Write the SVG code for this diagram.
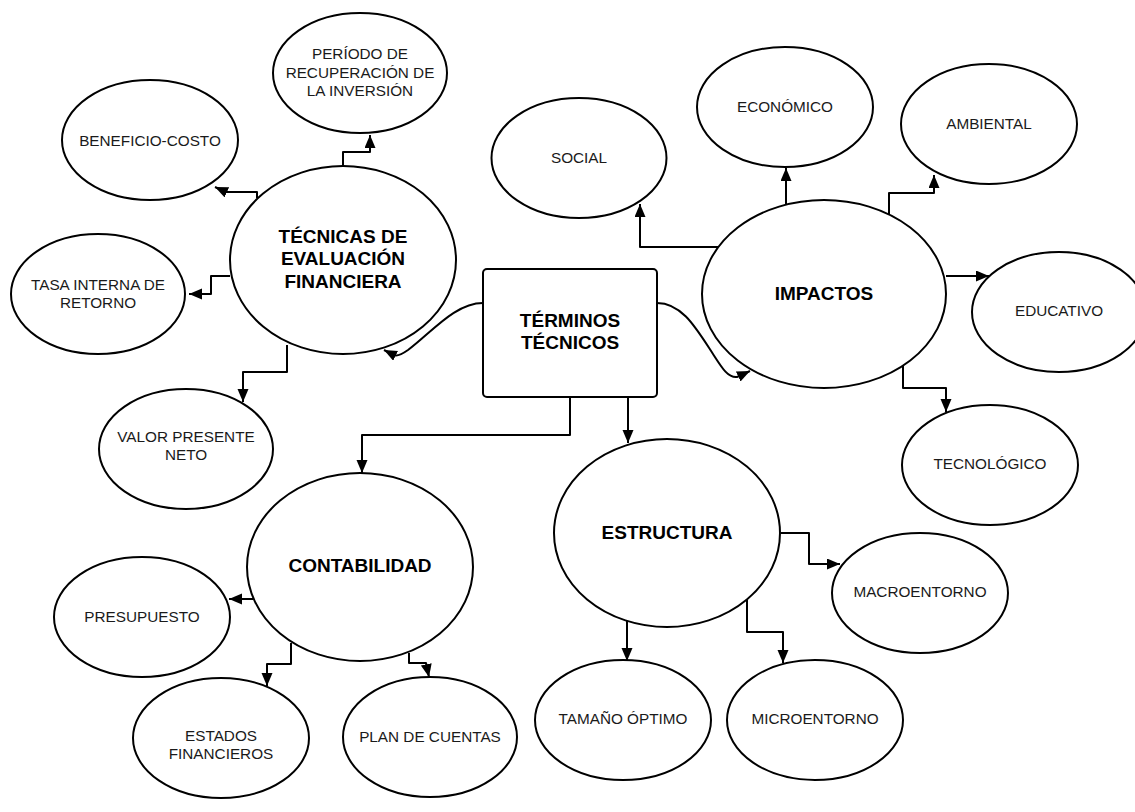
<svg xmlns="http://www.w3.org/2000/svg" width="1135" height="812" viewBox="0 0 1135 812">
<style>
.n{fill:#fff;stroke:#000;stroke-width:2}
.t{font-family:"Liberation Sans",Arial,sans-serif;font-size:15.3px;fill:#1a1a1a;text-anchor:middle;dominant-baseline:central}
.b{font-family:"Liberation Sans",Arial,sans-serif;font-size:19px;font-weight:bold;fill:#000;text-anchor:middle;dominant-baseline:central}
.c{fill:none;stroke:#000;stroke-width:2;stroke-linejoin:round;marker-end:url(#ah)}
</style>
<defs>
<marker id="ah" markerUnits="userSpaceOnUse" markerWidth="14" markerHeight="12" refX="13" refY="5.5" orient="auto">
<path d="M0,0 L13,5.5 L0,11 z" fill="#000"/>
</marker>
</defs>
<rect width="1135" height="812" fill="#fff"/>
<g id="connectors">
<path class="c" d="M343,167 V152 H370 V135"/>
<path class="c" d="M257,198 V192 H226 L215,187"/>
<path class="c" d="M230,276 H211 V294 H189"/>
<path class="c" d="M287,345 V372 H243 V402"/>
<path class="c" d="M483,303 C455,303 432,332 408,350 Q398,357 394,355 L384,350"/>
<path class="c" d="M657,303 C682,303 696,328 713,354 C722,368 728,378 737,377 L750,371"/>
<path class="c" d="M570,397 V435 H362 V473"/>
<path class="c" d="M628,397 V443"/>
<path class="c" d="M718,247 H640 V204"/>
<path class="c" d="M786,204 V168"/>
<path class="c" d="M889,214 V193 H934 V175"/>
<path class="c" d="M946,276 H989"/>
<path class="c" d="M903,365 V388 H946 V412"/>
<path class="c" d="M253,599 H229"/>
<path class="c" d="M291,643 V664 H267 V686"/>
<path class="c" d="M409,653 V663 H426 L429,677"/>
<path class="c" d="M781,533 H809 V564 H840"/>
<path class="c" d="M627,620 V661"/>
<path class="c" d="M747,600 V632 H783 V663"/>
</g>
<g id="terminos">
<rect class="n" x="483" y="269" width="174" height="128" rx="4"/>
<text class="b" x="570" y="320">TÉRMINOS</text>
<text class="b" x="570" y="342">TÉCNICOS</text>
</g>
<g id="tecnicas">
<ellipse class="n" cx="343" cy="260" rx="113" ry="94"/>
<text class="b" x="343" y="236">TÉCNICAS DE</text>
<text class="b" x="343" y="258">EVALUACIÓN</text>
<text class="b" x="343" y="281">FINANCIERA</text>
</g>
<g id="periodo">
<ellipse class="n" cx="360" cy="73" rx="87" ry="60"/>
<text class="t" x="360" y="53">PERÍODO DE</text>
<text class="t" x="360" y="72">RECUPERACIÓN DE</text>
<text class="t" x="360" y="90">LA INVERSIÓN</text>
</g>
<g id="beneficio">
<ellipse class="n" cx="150" cy="140" rx="88" ry="60"/>
<text class="t" x="150" y="140">BENEFICIO-COSTO</text>
</g>
<g id="tasa">
<ellipse class="n" cx="98" cy="294" rx="87" ry="60"/>
<text class="t" x="98" y="284">TASA INTERNA DE</text>
<text class="t" x="98" y="302">RETORNO</text>
</g>
<g id="valor">
<ellipse class="n" cx="186" cy="449" rx="87" ry="60"/>
<text class="t" x="186" y="436">VALOR PRESENTE</text>
<text class="t" x="186" y="454">NETO</text>
</g>
<g id="impactos">
<ellipse class="n" cx="824" cy="294" rx="122" ry="94"/>
<text class="b" x="824" y="293">IMPACTOS</text>
</g>
<g id="social">
<ellipse class="n" cx="579" cy="158" rx="87.5" ry="60"/>
<text class="t" x="579" y="157">SOCIAL</text>
</g>
<g id="economico">
<ellipse class="n" cx="785" cy="107" rx="88" ry="60"/>
<text class="t" x="785" y="106">ECONÓMICO</text>
</g>
<g id="ambiental">
<ellipse class="n" cx="989" cy="124" rx="88" ry="60"/>
<text class="t" x="989" y="123">AMBIENTAL</text>
</g>
<g id="educativo">
<ellipse class="n" cx="1059" cy="312" rx="87" ry="60"/>
<text class="t" x="1059" y="310">EDUCATIVO</text>
</g>
<g id="tecnologico">
<ellipse class="n" cx="990" cy="465" rx="88" ry="60"/>
<text class="t" x="990" y="463">TECNOLÓGICO</text>
</g>
<g id="contabilidad">
<ellipse class="n" cx="360" cy="567" rx="113" ry="94"/>
<text class="b" x="360" y="565">CONTABILIDAD</text>
</g>
<g id="presupuesto">
<ellipse class="n" cx="142" cy="617" rx="88" ry="60"/>
<text class="t" x="142" y="616">PRESUPUESTO</text>
</g>
<g id="estados">
<ellipse class="n" cx="221" cy="738" rx="88" ry="60"/>
<text class="t" x="221" y="735">ESTADOS</text>
<text class="t" x="221" y="753">FINANCIEROS</text>
</g>
<g id="plan">
<ellipse class="n" cx="430" cy="737" rx="87" ry="60"/>
<text class="t" x="430" y="736">PLAN DE CUENTAS</text>
</g>
<g id="estructura">
<ellipse class="n" cx="667" cy="533" rx="113" ry="94"/>
<text class="b" x="667" y="532">ESTRUCTURA</text>
</g>
<g id="macro">
<ellipse class="n" cx="920" cy="593" rx="88" ry="60"/>
<text class="t" x="920" y="591">MACROENTORNO</text>
</g>
<g id="tamano">
<ellipse class="n" cx="623" cy="720" rx="88" ry="60"/>
<text class="t" x="623" y="718">TAMAÑO ÓPTIMO</text>
</g>
<g id="micro">
<ellipse class="n" cx="815" cy="720" rx="88" ry="60"/>
<text class="t" x="815" y="718">MICROENTORNO</text>
</g>
</svg>
